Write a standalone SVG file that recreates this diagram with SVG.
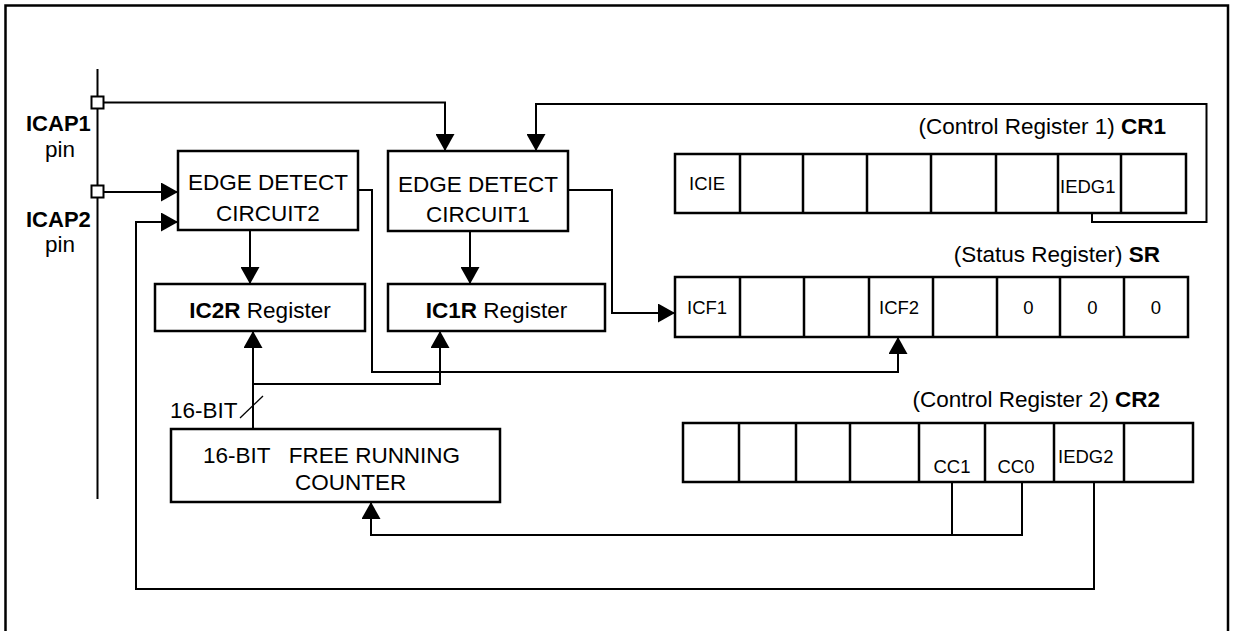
<svg xmlns="http://www.w3.org/2000/svg" width="1236" height="631" viewBox="0 0 1236 631">
<style>
.box{fill:#fff;stroke:#000;stroke-width:2.5}
.cell{fill:none;stroke:#000;stroke-width:2.5}
.wire{fill:none;stroke:#000;stroke-width:2}
.thin{fill:none;stroke:#000;stroke-width:1.3}
text{font-family:"Liberation Sans",Arial,Helvetica,sans-serif;font-size:22.5px;fill:#000}
.c{font-size:18.5px}
.b{font-weight:bold}
.m{text-anchor:middle}
.e{text-anchor:end}
</style>
<defs>
<marker id="arr" viewBox="0 0 17 19" refX="17" refY="9.5" markerWidth="17" markerHeight="19" markerUnits="userSpaceOnUse" orient="auto">
<path d="M0,0 L17,9.5 L0,19 z" fill="#000"/>
</marker>
</defs>
<path d="M5.5,640 V5.5 H1228 V640" fill="none" stroke="#000" stroke-width="2.5"/>
<g id="connectors">
<path class="wire" d="M97.5,69 V499"/>
<path class="wire" d="M103.5,102.5 H445 V151" marker-end="url(#arr)"/>
<path class="wire" d="M103.5,192 H178" marker-end="url(#arr)"/>
<path class="wire" d="M1094,482 V589 H136 V222 H178" marker-end="url(#arr)"/>
<path class="wire" d="M1092,213 V222 H1206.5 V104 H536 V151" marker-end="url(#arr)"/>
<path class="wire" d="M250,230 V284" marker-end="url(#arr)"/>
<path class="wire" d="M470,231 V284" marker-end="url(#arr)"/>
<path class="wire" d="M358,190 H372 V372 H898 V337" marker-end="url(#arr)"/>
<path class="wire" d="M568,190 H612 V313 H675" marker-end="url(#arr)"/>
<path class="wire" d="M253,429 V331" marker-end="url(#arr)"/>
<path class="wire" d="M253,384 H440 V331" marker-end="url(#arr)"/>
<path class="wire" d="M952,482 V535"/>
<path class="wire" d="M1022,482 V535 H371 V502" marker-end="url(#arr)"/>
<path class="thin" d="M240,418 L263,396"/>
<text x="170" y="418">16-BIT</text>
</g>
<g id="icap1">
<rect class="wire" x="91.5" y="96.5" width="12" height="12" fill="#fff" style="fill:#fff"/>
<text class="b" x="26" y="131" style="font-size:22px">ICAP1</text>
<text class="m" x="60" y="157">pin</text>
</g>
<g id="icap2">
<rect class="wire" x="91.5" y="185.5" width="12" height="12" style="fill:#fff"/>
<text class="b" x="26" y="227" style="font-size:22px">ICAP2</text>
<text class="m" x="60" y="252">pin</text>
</g>
<g id="ed2">
<rect class="box" x="178" y="151" width="180" height="79"/>
<text class="m" x="268" y="190">EDGE DETECT</text>
<text class="m" x="268" y="221">CIRCUIT2</text>
</g>
<g id="ed1">
<rect class="box" x="388" y="151" width="180" height="80"/>
<text class="m" x="478" y="191.5">EDGE DETECT</text>
<text class="m" x="478" y="222">CIRCUIT1</text>
</g>
<g id="ic2r">
<rect class="box" x="155" y="284" width="210" height="47"/>
<text class="m" x="260" y="318"><tspan class="b">IC2R</tspan> Register</text>
</g>
<g id="ic1r">
<rect class="box" x="388" y="284" width="217" height="47"/>
<text class="m" x="496.5" y="318"><tspan class="b">IC1R</tspan> Register</text>
</g>
<g id="counter">
<rect class="box" x="171" y="429" width="329" height="73"/>
<text x="203" y="463" xml:space="preserve">16-BIT   FREE RUNNING</text>
<text x="295" y="490">COUNTER</text>
</g>
<g id="cr1">
<text class="e" x="1166" y="134">(Control Register 1) <tspan class="b">CR1</tspan></text>
<rect class="cell" x="675" y="154" width="511" height="59"/>
<path class="cell" d="M740,154 V213 M803,154 V213 M867,154 V213 M931,154 V213 M996,154 V213 M1058,154 V213 M1121,154 V213"/>
<text class="c" x="689" y="190">ICIE</text>
<text class="c" x="1060" y="193">IEDG1</text>
</g>
<g id="sr">
<text class="e" x="1160" y="262">(Status Register) <tspan class="b">SR</tspan></text>
<rect class="cell" x="675" y="277" width="513" height="60"/>
<path class="cell" d="M740,277 V337 M804,277 V337 M869,277 V337 M933,277 V337 M997,277 V337 M1060,277 V337 M1124,277 V337"/>
<text class="c" x="687" y="314">ICF1</text>
<text class="c" x="879" y="314">ICF2</text>
<text class="c m" x="1028.5" y="314">0</text>
<text class="c m" x="1092.5" y="314">0</text>
<text class="c m" x="1156" y="314">0</text>
</g>
<g id="cr2">
<text class="e" x="1160" y="407">(Control Register 2) <tspan class="b">CR2</tspan></text>
<rect class="cell" x="683" y="423" width="510" height="59"/>
<path class="cell" d="M739,423 V482 M796,423 V482 M850,423 V482 M919,423 V482 M985,423 V482 M1054,423 V482 M1124,423 V482"/>
<text class="c m" x="952" y="473">CC1</text>
<text class="c m" x="1016" y="473">CC0</text>
<text class="c" x="1058" y="463">IEDG2</text>
</g>
</svg>
